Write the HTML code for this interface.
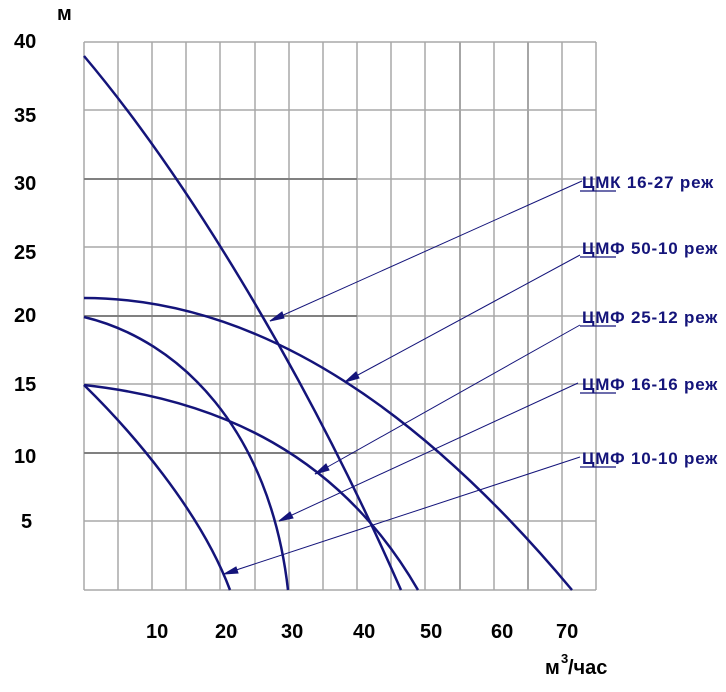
<!DOCTYPE html>
<html><head><meta charset="utf-8"><style>
html,body{margin:0;padding:0;background:#fff;}
svg{display:block;}
text{font-family:"Liberation Sans",sans-serif;font-weight:bold;}
</style></head><body>
<svg width="726" height="692" viewBox="0 0 726 692" xmlns="http://www.w3.org/2000/svg">
<g stroke="#a8a8a8" stroke-width="1.5">
<line x1="84" y1="42" x2="84" y2="590"/><line x1="118" y1="42" x2="118" y2="590"/><line x1="152" y1="42" x2="152" y2="590"/><line x1="186" y1="42" x2="186" y2="590"/><line x1="220" y1="42" x2="220" y2="590"/><line x1="255" y1="42" x2="255" y2="590"/><line x1="289" y1="42" x2="289" y2="590"/><line x1="323" y1="42" x2="323" y2="590"/><line x1="357" y1="42" x2="357" y2="590"/><line x1="391" y1="42" x2="391" y2="590"/><line x1="425" y1="42" x2="425" y2="590"/><line x1="460" y1="42" x2="460" y2="590" stroke="#888"/><line x1="494" y1="42" x2="494" y2="590"/><line x1="528" y1="42" x2="528" y2="590" stroke="#888"/><line x1="562" y1="42" x2="562" y2="590"/><line x1="596" y1="42" x2="596" y2="590"/>
<line x1="84" y1="42" x2="596" y2="42"/><line x1="84" y1="110" x2="596" y2="110"/><line x1="84" y1="179" x2="596" y2="179"/><line x1="84" y1="247" x2="596" y2="247"/><line x1="84" y1="316" x2="596" y2="316"/><line x1="84" y1="384" x2="596" y2="384"/><line x1="84" y1="453" x2="596" y2="453"/><line x1="84" y1="521" x2="596" y2="521"/><line x1="84" y1="590" x2="596" y2="590"/>
</g>
<g stroke="#808080" stroke-width="2"><line x1="84" y1="179" x2="357" y2="179"/><line x1="84" y1="316" x2="357" y2="316"/><line x1="84" y1="453" x2="357" y2="453"/></g>
<g fill="none" stroke="#14147a" stroke-width="2.5">
<path d="M84,56 C180,170 300,360 401,590"/>
<path d="M84,298 Q328,298 572,590"/>
<path d="M84,317 C180,340 270,430 288,590"/>
<path d="M84,385 C220,400 340,455 418,590"/>
<path d="M84,385 C130,430 200,510 230,590"/>
</g>
<g stroke="#14147a" stroke-width="1" fill="#14147a">
<line x1="582" y1="181" x2="270" y2="321"/><polygon points="270,321 282,312 284,318"/>
<line x1="580" y1="255" x2="345" y2="382"/><polygon points="345,382 356,372 359,378"/>
<line x1="580" y1="325" x2="315" y2="474"/><polygon points="315,474 326,464 329,470"/>
<line x1="578" y1="383" x2="279" y2="521"/><polygon points="279,521 290,512 293,518"/>
<line x1="580" y1="457" x2="224" y2="574"/><polygon points="224,574 236,567 238,573"/>
</g>
<g fill="#14147a" font-size="17" letter-spacing="0.8">
<text x="582" y="188">ЦМК 16-27 реж</text>
<text x="582" y="254">ЦМФ 50-10 реж</text>
<text x="582" y="323">ЦМФ 25-12 реж</text>
<text x="582" y="390">ЦМФ 16-16 реж</text>
<text x="582" y="464">ЦМФ 10-10 реж</text>
</g>
<g stroke="#14147a" stroke-width="1.2">
<line x1="580" y1="191" x2="616" y2="191"/><line x1="580" y1="257" x2="616" y2="257"/><line x1="580" y1="326" x2="616" y2="326"/><line x1="580" y1="393" x2="616" y2="393"/><line x1="580" y1="467" x2="616" y2="467"/>
</g>
<g fill="#000" font-size="20">
<text x="57" y="20">м</text>
<text x="14" y="48">40</text><text x="14" y="122">35</text><text x="14" y="190">30</text><text x="14" y="259">25</text><text x="14" y="322">20</text><text x="14" y="391">15</text><text x="14" y="463">10</text><text x="21" y="528">5</text>
<text x="146" y="638">10</text><text x="215" y="638">20</text><text x="281" y="638">30</text><text x="353" y="638">40</text><text x="420" y="638">50</text><text x="491" y="638">60</text><text x="556" y="638">70</text>
<text x="545" y="674">м</text><text x="561" y="663" font-size="13">3</text><text x="568" y="674">/час</text>
</g>
</svg>
</body></html>
